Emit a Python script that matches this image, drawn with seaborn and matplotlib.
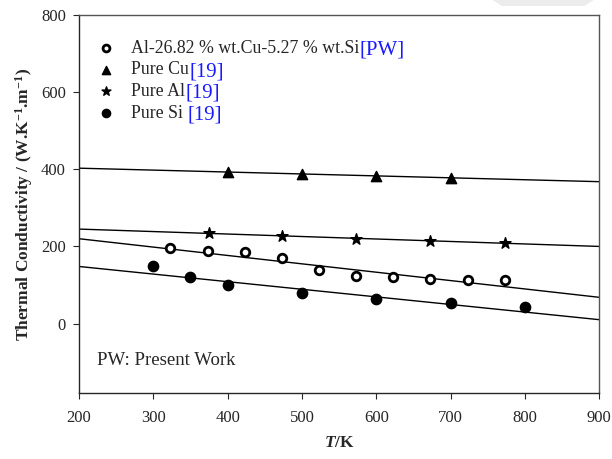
import numpy as np
import pandas as pd
import matplotlib
matplotlib.use("Agg")
import matplotlib.pyplot as plt
from matplotlib.patches import Polygon
import seaborn as sns

# measured / literature points
t_alloy = [323, 373, 423, 473, 523, 573, 623, 673, 723, 773]
k_alloy = [195, 188, 185, 170, 140, 123, 120, 115, 112, 112]
t_cu = [400, 500, 600, 700]
k_cu = [393, 388, 384, 378]
t_al = [375, 473, 573, 673, 773]
k_al = [234, 228, 220, 214, 208]
t_si = [300, 350, 400, 500, 600, 700, 800]
k_si = [150, 120, 100, 78, 64, 52, 44]

# fitted lines, end values at 200 K and 900 K
t_fit = [200, 900]
fit_cu = [403, 368]
fit_al = [245, 200]
fit_alloy = [220, 68]
fit_si = [148, 10]

labels = ["Al-26.82 % wt.Cu-5.27 % wt.Si", "Pure Cu", "Pure Al", "Pure Si "]
refs = ["[PW]", "[19]", "[19]", "[19]"]

sns.set_style("ticks")
plt.rcParams["font.family"] = ["Liberation Serif", "DejaVu Serif"]
plt.rcParams["mathtext.fontset"] = "custom"
plt.rcParams["mathtext.rm"] = "Liberation Serif"
plt.rcParams["mathtext.it"] = "Liberation Serif:italic"
plt.rcParams["mathtext.bf"] = "Liberation Serif:bold"
plt.rcParams["mathtext.bfit"] = "Liberation Serif:bold:italic"

fig = plt.figure(figsize=(6.12, 4.59), dpi=100)
ax = fig.add_axes([0.129, 0.144, 0.850, 0.823])

# faint grey tab at the top edge of the source image
fig.patches.append(Polygon([[0.805, 1.0], [0.97, 1.0], [0.955, 0.987], [0.82, 0.987]],
                           closed=True, transform=fig.transFigure,
                           facecolor="#ececec", edgecolor="none"))

for y in [fit_cu, fit_al, fit_alloy, fit_si]:
    sns.lineplot(x=t_fit, y=y, ax=ax, color="black", lw=1.0, legend=False)

h1 = ax.scatter(t_alloy, k_alloy, s=38, marker="o", facecolor="white",
                edgecolor="black", linewidths=2.0, zorder=3, label=labels[0])
h2 = ax.scatter(t_cu, k_cu, s=55, marker="^", color="black", zorder=3, label=labels[1])
h3 = ax.scatter(t_al, k_al, s=70, marker="*", color="black", zorder=3, label=labels[2])
h4 = ax.scatter(t_si, k_si, s=55, marker="o", color="black", zorder=3, label=labels[3])

ax.set_xlim(200, 900)
ax.set_ylim(-180, 800)
ax.set_xticks(range(200, 901, 100))
ax.set_yticks(range(0, 801, 200))
ax.tick_params(labelsize=12, direction="out", length=4.5, width=0.8)
ax.tick_params(axis="x", pad=8)
ax.tick_params(axis="y", pad=5)
for s in ["top", "right"]:
    ax.spines[s].set_color("#555555")
for s in ax.spines.values():
    s.set_linewidth(1.0)

ax.set_xlabel(r"$\mathbfit{T}$/K", fontsize=12.5, fontweight="bold", labelpad=6)
ax.set_ylabel(r"Thermal Conductivity / (W.K$^{\mathbf{-1}}$.m$^{\mathbf{-1}}$)",
              fontsize=12.5, fontweight="bold", labelpad=4)

leg = ax.legend(handles=[h1, h2, h3, h4], loc="upper left", frameon=False,
                fontsize=12.8, bbox_to_anchor=(0.0, 0.982), handletextpad=0.9,
                labelspacing=0.26, borderaxespad=0.6, handlelength=1.0,
                markerscale=0.8)

ax.text(224, -97, "PW: Present Work", fontsize=13.5, va="center")

fig.canvas.draw()
renderer = fig.canvas.get_renderer()
inv = fig.transFigure.inverted()
for txt, ref in zip(leg.get_texts(), refs):
    bb = txt.get_window_extent(renderer)
    x0, y0 = inv.transform((bb.x1 + 1, (bb.y0 + bb.y1) / 2 - 2))
    fig.text(x0, y0, ref, color="#1a1aff", fontsize=15, va="center", ha="left")

fig.savefig("out.png", dpi=100)
